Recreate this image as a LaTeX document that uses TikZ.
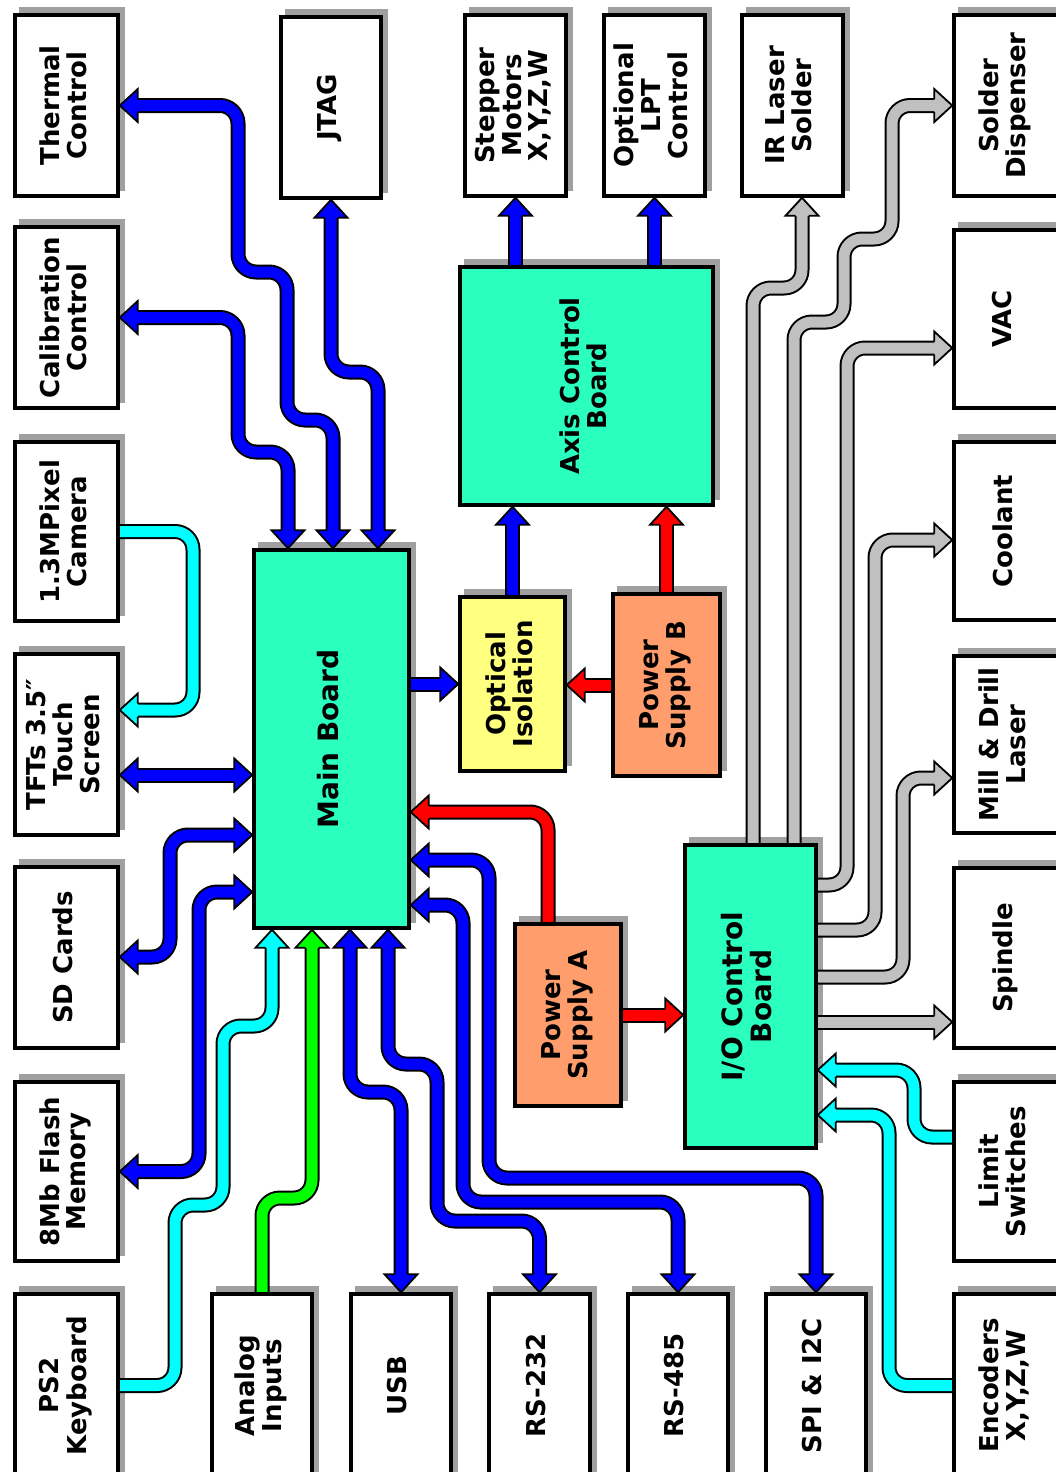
\documentclass[tikz,border=0pt]{standalone}
\usepackage{fontspec}
\setmainfont{DejaVu Sans}
\usepackage{graphicx}
\usetikzlibrary{calc}
\pgfdeclarelayer{shad}
\pgfdeclarelayer{wires}
\pgfsetlayers{shad,wires,main}
\definecolor{bl}{RGB}{0,0,255}
\definecolor{cy}{RGB}{0,255,255}
\definecolor{gr}{RGB}{0,255,0}
\definecolor{rd}{RGB}{255,0,0}
\definecolor{gy}{RGB}{192,192,192}
\definecolor{teal}{RGB}{42,255,192}
\definecolor{yel}{RGB}{255,255,128}
\definecolor{salm}{RGB}{255,158,108}
\definecolor{shadowc}{RGB}{160,160,160}
\tikzset{
  box/.style={draw=black, line width=3.5pt, inner sep=0pt, font=\bfseries\fontsize{26}{25}\selectfont},
  wire/.style={draw=#1, line width=11pt, line cap=butt, line join=round, rounded corners=18pt,
    preaction={draw=black, line width=15pt}},
  sa/.style={shorten <=12pt},
  sb/.style={shorten >=12pt},
  pics/ftip/.style={code={
    \fill[#1] (0,0) -- (-18,16.5) -- (-18,-16.5) -- cycle;
    \draw[black, line width=1.8pt, line join=miter, line cap=butt]
      (-18,6.5) -- (-18,16.5) -- (0,0) -- (-18,-16.5) -- (-18,-6.5);
  }}
}
\newcommand\bx[8][]{%
  \node[box, fill=#7, minimum width={#5-#3}, minimum height={#6-#4}] (#2) at ({(#3+#5)/2},{(#4+#6)/2})
    {\rotatebox{90}{#1\begin{tabular}{@{}c@{}}#8\end{tabular}}};
  \begin{pgfonlayer}{shad}
    \fill[shadowc] ([xshift=5.5pt,yshift=6.5pt]#2.south west) rectangle ([xshift=5.5pt,yshift=6.5pt]#2.north east);
  \end{pgfonlayer}}
\begin{document}
\begin{tikzpicture}[x=1pt,y=-1pt]
\useasboundingbox (0,0) rectangle (1055,1472);
\begin{pgfonlayer}{shad}
  \fill[white] (0,0) rectangle (1055,1472);
\end{pgfonlayer}
% left column
\bx{tc}{15}{15}{118}{196}{white}{Thermal\\Control}
\bx{cc}{15}{227}{118}{408}{white}{Calibration\\Control}
\bx{cam}{15}{442}{118}{621}{white}{1.3MPixel\\Camera}
\bx{tft}{15}{654}{118}{835}{white}{TFTs 3.5″\\Touch\\Screen}
\bx{sd}{15}{867}{118}{1048}{white}{SD Cards}
\bx{fl}{15}{1082}{118}{1261}{white}{8Mb Flash\\Memory}
\bx{ps2}{15}{1294}{118}{1477}{white}{PS2\\Keyboard}
% top row
\bx{jtag}{281}{17}{381}{198}{white}{JTAG}
\bx{stp}{465}{15}{566}{196}{white}{Stepper\\Motors\\X,Y,Z,W}
\bx{lpt}{604}{15}{705}{196}{white}{Optional\\LPT\\Control}
\bx{ir}{742}{15}{843}{196}{white}{IR Laser\\Solder}
% right column
\bx{sold}{954}{15}{1058}{196}{white}{Solder\\Dispenser}
\bx{vac}{954}{230}{1058}{408}{white}{VAC}
\bx{cool}{954}{442}{1058}{620}{white}{Coolant}
\bx{mill}{954}{656}{1058}{833}{white}{Mill \& Drill\\Laser}
\bx{spin}{954}{868}{1058}{1048}{white}{Spindle}
\bx{lim}{954}{1082}{1058}{1261}{white}{Limit\\Switches}
\bx{enc}{954}{1294}{1058}{1477}{white}{Encoders\\X,Y,Z,W}
% bottom row
\bx{ana}{212}{1294}{312}{1477}{white}{Analog\\Inputs}
\bx{usb}{351}{1294}{451}{1477}{white}{USB}
\bx{r232}{489}{1294}{590}{1477}{white}{RS-232}
\bx{r485}{628}{1294}{728}{1477}{white}{RS-485}
\bx{spi}{766}{1294}{866}{1477}{white}{SPI \& I2C}
% boards
\bx[\fontsize{28}{27}\selectfont]{mb}{254}{550}{409}{928}{teal}{Main Board}
\bx{axis}{460}{267}{713}{505}{teal}{Axis Control\\Board}
\bx{opt}{460}{597}{565}{771}{yel}{Optical\\Isolation}
\bx{psb}{613}{594}{720}{776}{salm}{Power\\Supply B}
\bx{psa}{515}{924}{621}{1106}{salm}{Power\\Supply A}
\bx[\fontsize{28}{27}\selectfont]{io}{685}{845}{816}{1148}{teal}{I/O Control\\Board}

\begin{pgfonlayer}{wires}
% main board top
\draw[wire=bl, sa, sb] (333,0 |- mb.north) -- (333,420) -- (287,420) -- (287,272) -- (238,272) -- (238,0 |- tc.east) -- (tc.east);
\draw[wire=bl, sa, sb] (288,0 |- mb.north) -- (288,452) -- (238,452) -- (238,0 |- cc.east) -- (cc.east);
\draw[wire=bl, sa, sb] (378,0 |- mb.north) -- (378,372) -- (331,372) -- (jtag.south);
% camera
\draw[wire=cy, sb] (cam.east) -- (193,0 |- cam.east) -- (193,710) -- (tft.east |- 0,710);
% main board left
\draw[wire=bl, sa, sb] (tft.east |- 0,775) -- (mb.west |- 0,775);
\draw[wire=bl, sa, sb] (mb.west |- 0,835) -- (170,835) -- (170,957) -- (sd.east |- 0,957);
\draw[wire=bl, sa, sb] (mb.west |- 0,892) -- (199,892) -- (199,0 |- fl.east) -- (fl.east);
% main board bottom
\draw[wire=cy, sb] (ps2.east) -- (175,0 |- ps2.east) -- (175,1205) -- (223,1205) -- (223,1026) -- (272,1026) -- (272,0 |- mb.south);
\draw[wire=gr, sb] (ana.north) -- (262,1198) -- (312,1198) -- (312,0 |- mb.south);
\draw[wire=bl, sa, sb] (350,0 |- mb.south) -- (350,1092) -- (usb.north |- 0,1092) -- (usb.north);
\draw[wire=bl, sa, sb] (388,0 |- mb.south) -- (388,1064) -- (437,1064) -- (437,1221) -- (r232.north |- 0,1221) -- (r232.north);
% main board right
\draw[wire=bl, sa, sb] (mb.east |- 0,905) -- (463,905) -- (463,1202) -- (r485.north |- 0,1202) -- (r485.north);
\draw[wire=bl, sa, sb] (mb.east |- 0,860) -- (489,860) -- (489,1178) -- (spi.north |- 0,1178) -- (spi.north);
\draw[wire=rd, sb] (548,0 |- psa.north) -- (548,812) -- (mb.east |- 0,812);
\draw[wire=bl, sb] (mb.east |- opt.west) -- (opt.west);
% power and axis
\draw[wire=rd, sb] (psa.east) -- (io.west |- psa.east);
\draw[wire=rd, sb] (psb.west) -- (opt.east |- psb.west);
\draw[wire=bl, sb] (opt.north) -- (opt.north |- axis.south);
\draw[wire=rd, sb] (psb.north) -- (psb.north |- axis.south);
\draw[wire=bl, sb] (stp.south |- axis.north) -- (stp.south);
\draw[wire=bl, sb] (lpt.south |- axis.north) -- (lpt.south);
% I/O outputs
\draw[wire=gy, sb] (753,0 |- io.north) -- (753,288) -- (802,288) -- (802,0 |- ir.south);
\draw[wire=gy, sb] (794,0 |- io.north) -- (794,322) -- (844,322) -- (844,239) -- (892,239) -- (892,0 |- sold.west) -- (sold.west);
\draw[wire=gy, sb] (io.east |- 0,885) -- (847,885) -- (847,348) -- (vac.west |- 0,348);
\draw[wire=gy, sb] (io.east |- 0,930) -- (875,930) -- (875,540) -- (cool.west |- 0,540);
\draw[wire=gy, sb] (io.east |- 0,977) -- (903,977) -- (903,778) -- (mill.west |- 0,778);
\draw[wire=gy, sb] (io.east |- 0,1022) -- (spin.west |- 0,1022);
% I/O inputs
\draw[wire=cy, sb] (lim.west |- 0,1137) -- (914,1137) -- (914,1070) -- (io.east |- 0,1070);
\draw[wire=cy, sb] (enc.west) -- (889,0 |- enc.west) -- (889,1115) -- (io.east |- 0,1115);
\end{pgfonlayer}

% arrow tips
\pic[rotate=-90] at (333,0 |- mb.north) {ftip=bl};
\pic[rotate=-90] at (288,0 |- mb.north) {ftip=bl};
\pic[rotate=-90] at (378,0 |- mb.north) {ftip=bl};
\pic[rotate=180] at (tc.east) {ftip=bl};
\pic[rotate=180] at (cc.east) {ftip=bl};
\pic[rotate=90] at (jtag.south) {ftip=bl};
\pic[rotate=180] at (tft.east |- 0,710) {ftip=cy};
\pic[rotate=180] at (tft.east |- 0,775) {ftip=bl};
\pic at (mb.west |- 0,775) {ftip=bl};
\pic at (mb.west |- 0,835) {ftip=bl};
\pic[rotate=180] at (sd.east |- 0,957) {ftip=bl};
\pic at (mb.west |- 0,892) {ftip=bl};
\pic[rotate=180] at (fl.east) {ftip=bl};
\pic[rotate=90] at (272,0 |- mb.south) {ftip=cy};
\pic[rotate=90] at (312,0 |- mb.south) {ftip=gr};
\pic[rotate=90] at (350,0 |- mb.south) {ftip=bl};
\pic[rotate=-90] at (usb.north) {ftip=bl};
\pic[rotate=90] at (388,0 |- mb.south) {ftip=bl};
\pic[rotate=-90] at (r232.north) {ftip=bl};
\pic[rotate=180] at (mb.east |- 0,905) {ftip=bl};
\pic[rotate=-90] at (r485.north) {ftip=bl};
\pic[rotate=180] at (mb.east |- 0,860) {ftip=bl};
\pic[rotate=-90] at (spi.north) {ftip=bl};
\pic[rotate=180] at (mb.east |- 0,812) {ftip=rd};
\pic at (opt.west) {ftip=bl};
\pic at (io.west |- psa.east) {ftip=rd};
\pic[rotate=180] at (opt.east |- psb.west) {ftip=rd};
\pic[rotate=90] at (opt.north |- axis.south) {ftip=bl};
\pic[rotate=90] at (psb.north |- axis.south) {ftip=rd};
\pic[rotate=90] at (stp.south) {ftip=bl};
\pic[rotate=90] at (lpt.south) {ftip=bl};
\pic[rotate=90] at (802,0 |- ir.south) {ftip=gy};
\pic at (sold.west) {ftip=gy};
\pic at (vac.west |- 0,348) {ftip=gy};
\pic at (cool.west |- 0,540) {ftip=gy};
\pic at (mill.west |- 0,778) {ftip=gy};
\pic at (spin.west |- 0,1022) {ftip=gy};
\pic[rotate=180] at (io.east |- 0,1070) {ftip=cy};
\pic[rotate=180] at (io.east |- 0,1115) {ftip=cy};
\end{tikzpicture}
\end{document}
